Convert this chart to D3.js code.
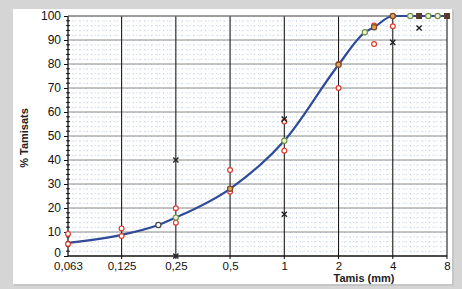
<!DOCTYPE html>
<html>
<head>
<meta charset="utf-8">
<script src="https://cdn.jsdelivr.net/npm/d3@7"></script>
<style>
  html, body { margin: 0; padding: 0; background: #d5d5d5; }
  svg { display: block; font-family: "Liberation Sans", Arial, sans-serif; }
  .axis path { stroke: #111; }
  .axis text { font-size: 12px; fill: #111; }
  .x-axis text { font-size: 11.5px; }
</style>
</head>
<body>
<div id="chart"></div>
<script>
// sieve sizes (mm) and % passing for the mean curve
const curveSizes = [0.063, 0.125, 0.2, 0.25, 0.5, 1, 2, 2.8, 3.15, 4, 5, 5.6, 6.3, 7.1, 8];
const curveValues = [5.5, 8.8, 12.9, 16, 28, 48, 79.7, 93.2, 95.3, 100, 100, 100, 100, 100, 100];

// red circles: upper and lower limits
const redSizes = [0.063, 0.125, 0.25, 0.5, 1, 2, 3.15, 4];
const redUpper = [9.2, 11.5, 19.9, 35.8, 56, 80, 96, 100];
const redLower = [5, 8.3, 13.9, 26.8, 43.9, 70, 88.3, 95.7];

// black crosses
const crossSizes = [0.25, 0.25, 1, 1, 4, 5.6];
const crossValues = [0, 40, 17.4, 57, 89, 95];

// markers sitting on the curve
const greenSieves = [0.25, 1, 2.8, 5, 6.3, 7.1];
const brownSieves = [0.5, 2, 3.15, 4];
const squareSieves = [5.6, 8];
const greySieves = [0.2];

const xTicks = [0.063, 0.125, 0.25, 0.5, 1, 2, 4, 8];
const xTickLabels = ['0,063', '0,125', '0,25', '0,5', '1', '2', '4', '8'];
const yTicks = [0, 10, 20, 30, 40, 50, 60, 70, 80, 90, 100];

const draw = () => {
  const dimensions = {
    width: 462,
    height: 289,
    margin: { top: 16, right: 15, bottom: 33, left: 68 }
  };
  const innerRight = dimensions.width - dimensions.margin.right;
  const innerBottom = dimensions.height - dimensions.margin.bottom;

  const svg = d3.select('#chart')
    .append('svg')
    .attr('width', dimensions.width)
    .attr('height', dimensions.height);

  // white panel
  svg.append('rect')
    .attr('x', 14).attr('y', 10)
    .attr('width', 440).attr('height', 276)
    .attr('fill', '#bdbdbd').attr('opacity', 0.6);
  svg.append('rect')
    .attr('x', 13).attr('y', 9)
    .attr('width', 439).attr('height', 275)
    .attr('fill', '#ffffff');

  const xScale = d3.scaleLog().base(2)
    .domain([0.063, 8])
    .range([dimensions.margin.left, innerRight]);

  const yScale = d3.scaleLinear()
    .domain([0, 100])
    .range([innerBottom, dimensions.margin.top]);

  // minor dotted grid
  const minorY = d3.range(0, 101, 2).filter((d) => d % 10 !== 0);
  svg.append('g')
    .selectAll('line')
    .data(minorY)
    .join('line')
    .attr('x1', xScale(0.063)).attr('x2', xScale(8))
    .attr('y1', (d) => yScale(d)).attr('y2', (d) => yScale(d))
    .attr('stroke', '#c4d2e3')
    .attr('stroke-width', 1)
    .attr('stroke-dasharray', '1,2.8');

  const minorX = [];
  for (let i = 0; i < xTicks.length - 1; i++) {
    for (let k = 1; k < 9; k++) minorX.push(xTicks[i] * Math.pow(2, k / 9));
  }
  svg.append('g')
    .selectAll('line')
    .data(minorX)
    .join('line')
    .attr('x1', (d) => xScale(d)).attr('x2', (d) => xScale(d))
    .attr('y1', yScale(100)).attr('y2', yScale(0))
    .attr('stroke', '#c4d2e3')
    .attr('stroke-width', 1)
    .attr('stroke-dasharray', '1,3.8');

  // major grid
  svg.append('g')
    .selectAll('line')
    .data(yTicks.slice(1))
    .join('line')
    .attr('x1', xScale(0.063)).attr('x2', xScale(8))
    .attr('y1', (d) => yScale(d)).attr('y2', (d) => yScale(d))
    .attr('stroke', '#8a8a8a')
    .attr('stroke-width', 1.2);

  svg.append('g')
    .selectAll('line')
    .data(xTicks.slice(1))
    .join('line')
    .attr('x1', (d) => xScale(d)).attr('x2', (d) => xScale(d))
    .attr('y1', yScale(100)).attr('y2', yScale(0) + 3)
    .attr('stroke', '#1a1a1a')
    .attr('stroke-width', 1.1);

  // axes
  const yAxis = d3.axisLeft(yScale)
    .tickValues(yTicks)
    .tickSize(4)
    .tickPadding(3);
  const yAxisGroup = svg.append('g')
    .attr('class', 'axis')
    .attr('transform', `translate(${dimensions.margin.left}, 0)`)
    .call(yAxis);
  yAxisGroup.select('.domain').attr('d', `M0,${yScale(0)}V${yScale(100)}`).attr('stroke-width', 1.3);
  yAxisGroup.selectAll('.tick line').attr('stroke', '#111');
  yAxisGroup.selectAll('.tick text').filter((d) => d === 0).attr('dy', '0.05em');

  // minor ticks on y axis
  svg.append('g')
    .selectAll('line')
    .data(d3.range(0, 101, 2).filter((d) => d % 10 !== 0))
    .join('line')
    .attr('x1', dimensions.margin.left - 2).attr('x2', dimensions.margin.left + 2)
    .attr('y1', (d) => yScale(d)).attr('y2', (d) => yScale(d))
    .attr('stroke', '#111');

  const xAxis = d3.axisBottom(xScale)
    .tickValues(xTicks)
    .tickFormat((d, i) => xTickLabels[i])
    .tickSize(0)
    .tickPadding(5.5);
  const xAxisGroup = svg.append('g')
    .attr('class', 'axis x-axis')
    .attr('transform', `translate(0, ${innerBottom})`)
    .call(xAxis);
  xAxisGroup.select('.domain').attr('d', `M${xScale(0.063)},0H${xScale(8)}`).attr('stroke-width', 1.3);

  // top border
  svg.append('line')
    .attr('x1', xScale(0.063)).attr('x2', xScale(8))
    .attr('y1', yScale(100)).attr('y2', yScale(100))
    .attr('stroke', '#777');

  svg.append('text')
    .attr('x', 364).attr('y', 282)
    .attr('text-anchor', 'middle')
    .attr('font-size', 11)
    .attr('font-weight', 'bold')
    .attr('fill', '#222')
    .text('Tamis (mm)');

  svg.append('text')
    .attr('transform', 'translate(28, 138) rotate(-90)')
    .attr('text-anchor', 'middle')
    .attr('font-size', 11)
    .attr('font-weight', 'bold')
    .attr('fill', '#222')
    .text('% Tamisats');

  // mean curve
  const curveData = curveSizes.map((s, i) => ({ s, v: curveValues[i] }));
  const line = d3.line()
    .x((d) => xScale(d.s))
    .y((d) => yScale(d.v))
    .curve(d3.curveMonotoneX);

  svg.append('path')
    .datum(curveData)
    .attr('d', line)
    .attr('fill', 'none')
    .attr('stroke', '#2e4a98')
    .attr('stroke-width', 2.2);

  // red limit circles
  const redData = redSizes.flatMap((s, i) => [{ s, v: redUpper[i] }, { s, v: redLower[i] }]);
  svg.append('g')
    .selectAll('circle')
    .data(redData)
    .join('circle')
    .attr('cx', (d) => xScale(d.s))
    .attr('cy', (d) => yScale(d.v))
    .attr('r', 2.4)
    .attr('fill', '#ffffff')
    .attr('stroke', '#e03a2a')
    .attr('stroke-width', 1.2);

  const onCurve = (s) => curveData.find((d) => d.s === s);

  const drawCircles = (sieves, fill, stroke) => {
    svg.append('g')
      .selectAll('circle')
      .data(sieves.map(onCurve))
      .join('circle')
      .attr('cx', (d) => xScale(d.s))
      .attr('cy', (d) => yScale(d.v))
      .attr('r', 2.6)
      .attr('fill', fill)
      .attr('stroke', stroke)
      .attr('stroke-width', 1.2);
  };
  drawCircles(greenSieves, '#f2efd8', '#6f944a');
  drawCircles(brownSieves, '#d9a45a', '#7a4a2a');
  drawCircles(greySieves, '#ffffff', '#444');

  svg.append('g')
    .selectAll('rect')
    .data(squareSieves.map(onCurve))
    .join('rect')
    .attr('x', (d) => xScale(d.s) - 3)
    .attr('y', (d) => yScale(d.v) - 3)
    .attr('width', 6).attr('height', 6)
    .attr('fill', '#5a3a2e');

  // black crosses
  const crossData = crossSizes.map((s, i) => ({ s, v: crossValues[i] }));
  svg.append('g')
    .selectAll('path')
    .data(crossData)
    .join('path')
    .attr('d', (d) => {
      const cx = xScale(d.s), cy = yScale(d.v), r = 2.6;
      return `M${cx - r},${cy - r}L${cx + r},${cy + r}M${cx + r},${cy - r}L${cx - r},${cy + r}`;
    })
    .attr('stroke', '#222')
    .attr('stroke-width', 1.4);
};

draw();
</script>
</body>
</html>
